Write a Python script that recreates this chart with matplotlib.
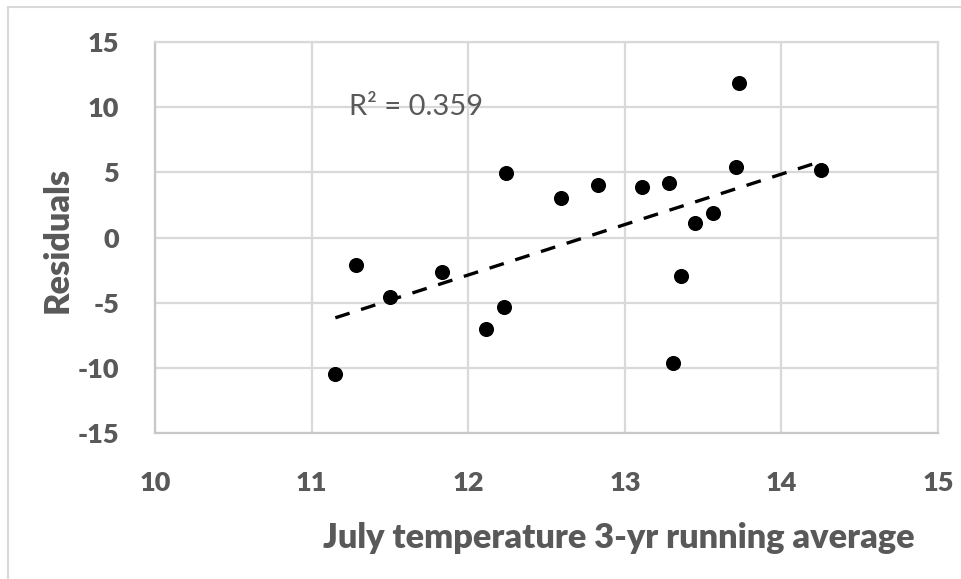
import matplotlib
matplotlib.use("Agg")
import matplotlib.pyplot as plt
import numpy as np
from matplotlib.patches import Rectangle

plt.rcParams["axes.unicode_minus"] = False

# Data
temp_avg = [11.15, 11.28, 11.50, 11.83, 12.11, 12.23, 12.24, 12.59, 12.83,
            13.11, 13.28, 13.31, 13.36, 13.45, 13.56, 13.71, 13.73, 14.25]
residuals = [-10.48, -2.10, -4.57, -2.66, -7.03, -5.34, 4.93, 3.02, 4.01,
             3.88, 4.21, -9.59, -2.94, 1.15, 1.87, 5.39, 11.88, 5.16]
x_ticks = [10, 11, 12, 13, 14, 15]
y_ticks = [-15, -10, -5, 0, 5, 10, 15]
r2_label = "R² = 0.359"
x_title = "July temperature 3-yr running average"
y_title = "Residuals"

GREY = "#595959"
GRID = "#d9d9d9"
FONT = ["Lato", "DejaVu Sans"]

fig = plt.figure(figsize=(9.61, 5.79), dpi=100)
fig.patch.set_facecolor("white")
fig.patches.append(Rectangle((8/961, -0.1), 1.2, 1 - 7/579 + 0.1,
                             transform=fig.transFigure, fill=False,
                             edgecolor="#d9d9d9", linewidth=1.5))

ax = fig.add_axes([155.3/961, 1 - 433.3/579, (938 - 155.3)/961, (433.3 - 42)/579])
ax.set_xlim(10, 15)
ax.set_ylim(-15, 15)
ax.set_xticks(x_ticks)
ax.set_yticks(y_ticks)
ax.grid(True, color=GRID, linewidth=1.6)
ax.set_axisbelow(True)
for s in ax.spines.values():
    s.set_color(GRID)
    s.set_linewidth(1.6)
ax.spines["left"].set_color("#c8c8c8")
ax.spines["bottom"].set_color("#c8c8c8")
ax.tick_params(length=0, labelcolor=GREY)
ax.tick_params(axis="y", pad=26)
ax.tick_params(axis="x", pad=27)
for lab in ax.get_xticklabels() + ax.get_yticklabels():
    lab.set_fontfamily(FONT)
    lab.set_fontweight("heavy")
    lab.set_fontsize(19.5)

ax.scatter(temp_avg, residuals, s=118, color="black", zorder=3, linewidths=0)

# linear trendline
xa = np.array(temp_avg)
coef = np.polyfit(xa, np.array(residuals), 1)
xs = np.array([xa.min(), xa.max()])
ax.plot(xs, np.polyval(coef, xs), color="black", linewidth=2.4,
        dashes=(4.5, 3.6), zorder=2)

ax.text(11.237, 10.02, r2_label, ha="left", va="center", color=GREY,
        fontsize=21, family=FONT)

ax.set_xlabel(x_title, fontsize=24.7, fontweight="heavy", color=GREY,
              family=FONT, va="center")
ax.xaxis.set_label_coords(0.5925, -0.2676)
ax.set_ylabel(y_title, fontsize=24.7, fontweight="heavy", color=GREY,
              family=FONT, va="center")
ax.yaxis.set_label_coords(-0.1243, 0.494)

fig.savefig("out.png", dpi=100, facecolor="white")
